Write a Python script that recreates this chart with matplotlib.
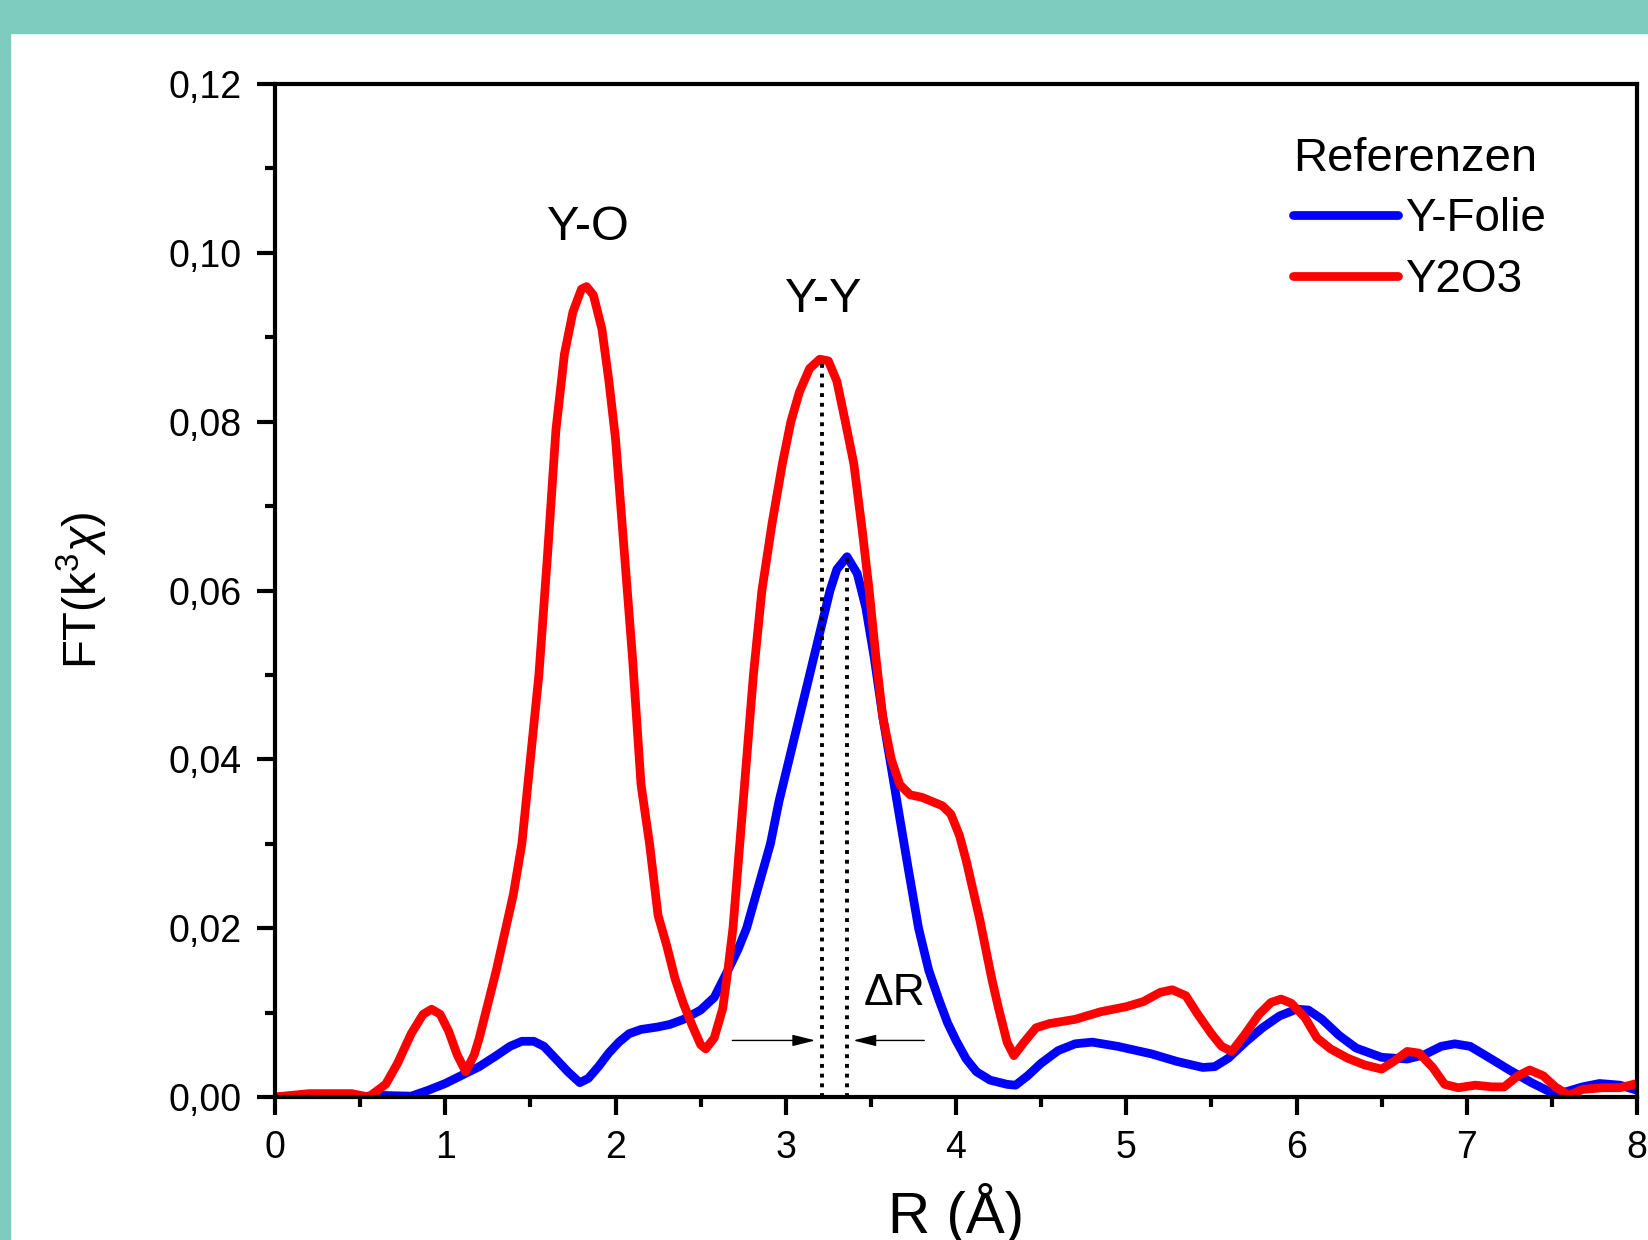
import matplotlib
matplotlib.use("Agg")
import matplotlib.pyplot as plt
from matplotlib.patches import Rectangle
from matplotlib.ticker import MultipleLocator, FuncFormatter

plt.rcParams["font.family"] = ["Liberation Sans", "DejaVu Sans"]
plt.rcParams["mathtext.fontset"] = "custom"
plt.rcParams["mathtext.rm"] = "Liberation Sans"
plt.rcParams["mathtext.it"] = "Liberation Sans:italic"

# Y-Folie (blue)
r_folie = [0.0, 0.3, 0.5, 0.6, 0.8, 0.9, 1.0, 1.1, 1.2, 1.3, 1.38, 1.45, 1.52, 1.58,
           1.65, 1.72, 1.79, 1.84, 1.9, 1.96, 2.02, 2.08, 2.15, 2.25, 2.32, 2.4, 2.5,
           2.58, 2.67, 2.72, 2.77, 2.84, 2.91, 2.96, 3.02, 3.08, 3.14, 3.2, 3.26, 3.3,
           3.36, 3.42, 3.47, 3.52, 3.57, 3.62, 3.67, 3.72, 3.78, 3.84, 3.9, 3.95, 4.0,
           4.06, 4.12, 4.2, 4.3, 4.35, 4.42, 4.5, 4.6, 4.7, 4.8, 4.95, 5.15, 5.3, 5.45,
           5.52, 5.6, 5.7, 5.8, 5.9, 6.0, 6.07, 6.15, 6.25, 6.35, 6.5, 6.65, 6.75,
           6.85, 6.93, 7.02, 7.12, 7.25, 7.38, 7.5, 7.58, 7.68, 7.78, 7.9, 8.0]
ft_folie = [0.0, 0.0, 0.0, 0.0002, 0.0001, 0.0008, 0.0016, 0.0026, 0.0036, 0.0049, 0.006,
            0.0066, 0.0066, 0.006, 0.0045, 0.003, 0.0017, 0.0022, 0.0036, 0.0052, 0.0065,
            0.0075, 0.008, 0.0083, 0.0086, 0.0092, 0.0103, 0.0118, 0.0154, 0.0175, 0.020,
            0.025, 0.030, 0.035, 0.040, 0.045, 0.050, 0.055, 0.060, 0.0625, 0.064, 0.062,
            0.058, 0.052, 0.045, 0.039, 0.033, 0.027, 0.020, 0.015, 0.0115, 0.0088, 0.0067,
            0.0045, 0.003, 0.002, 0.0015, 0.0014, 0.0025, 0.004, 0.0055, 0.0063, 0.0065,
            0.006, 0.0051, 0.0042, 0.0035, 0.0036, 0.0046, 0.0065, 0.0082, 0.0096, 0.0104,
            0.0103, 0.0092, 0.0073, 0.0058, 0.0047, 0.0045, 0.005, 0.006, 0.0063, 0.006,
            0.0048, 0.0032, 0.0017, 0.0005, 0.0006, 0.0012, 0.0016, 0.0014, 0.0008]

# Y2O3 (red)
r_y2o3 = [0.0, 0.2, 0.45, 0.55, 0.65, 0.72, 0.8, 0.87, 0.92, 0.97, 1.02, 1.07, 1.12, 1.17,
          1.2, 1.3, 1.4, 1.45, 1.5, 1.55, 1.6, 1.65, 1.7, 1.75, 1.8, 1.83, 1.87, 1.92,
          1.96, 2.0, 2.05, 2.1, 2.15, 2.2, 2.25, 2.3, 2.35, 2.4, 2.45, 2.5, 2.53, 2.58,
          2.63, 2.66, 2.69, 2.73, 2.77, 2.81, 2.86, 2.92, 2.98, 3.03, 3.08, 3.14, 3.2,
          3.25, 3.3, 3.35, 3.4, 3.45, 3.49, 3.53, 3.57, 3.62, 3.67, 3.73, 3.8, 3.86,
          3.92, 3.97, 4.02, 4.06, 4.1, 4.14, 4.17, 4.21, 4.25, 4.3, 4.34, 4.4, 4.47,
          4.55, 4.7, 4.85, 5.0, 5.1, 5.2, 5.27, 5.35, 5.42, 5.5, 5.56, 5.62, 5.7, 5.78,
          5.85, 5.91, 5.97, 6.05, 6.12, 6.2, 6.3, 6.4, 6.5, 6.57, 6.65, 6.72, 6.8,
          6.87, 6.95, 7.05, 7.15, 7.22, 7.3, 7.37, 7.45, 7.52, 7.6, 7.68, 7.8, 7.9, 8.0]
ft_y2o3 = [0.0, 0.0004, 0.0004, 0.0, 0.0015, 0.004, 0.0075, 0.0098, 0.0104, 0.0098, 0.0078,
           0.005, 0.003, 0.005, 0.007, 0.015, 0.024, 0.030, 0.040, 0.050, 0.064, 0.079,
           0.088, 0.093, 0.0957, 0.096, 0.095, 0.091, 0.085, 0.078, 0.065, 0.052, 0.037,
           0.030, 0.0215, 0.018, 0.014, 0.011, 0.0085, 0.0062, 0.0057, 0.007, 0.0105, 0.015,
           0.020, 0.030, 0.040, 0.050, 0.060, 0.068, 0.075, 0.080, 0.0835, 0.0863, 0.0874,
           0.0872, 0.0848, 0.080, 0.075, 0.067, 0.060, 0.052, 0.045, 0.040, 0.037, 0.0358,
           0.0355, 0.035, 0.0345, 0.0335, 0.031, 0.028, 0.0245, 0.021, 0.018, 0.014,
           0.0105, 0.0065, 0.0049, 0.0065, 0.0082, 0.0087, 0.0092, 0.0101, 0.0107, 0.0113,
           0.0124, 0.0127, 0.012, 0.0098, 0.0075, 0.006, 0.0054, 0.0075, 0.0098, 0.0112,
           0.0116, 0.0111, 0.0094, 0.007, 0.0057, 0.0046, 0.0038, 0.0033, 0.0042, 0.0054,
           0.0052, 0.0035, 0.0015, 0.0011, 0.0014, 0.0012, 0.0012, 0.0025, 0.0032, 0.0025,
           0.0012, 0.0002, 0.0009, 0.0011, 0.0011, 0.0016]

peak_r = [3.21, 3.36]
peak_ft = [0.0874, 0.064]

teal = "#7eccc0"
fig = plt.figure(figsize=(16.48, 12.4), dpi=100, facecolor="white")
fig.patches.append(Rectangle((0, 1 - 33 / 1240), 1, 33 / 1240, transform=fig.transFigure,
                             color=teal, zorder=0))
fig.patches.append(Rectangle((0, 0), 10 / 1648, 1, transform=fig.transFigure,
                             color=teal, zorder=0))

ax = fig.add_axes([275 / 1648, 143 / 1240, 1362 / 1648, 1013 / 1240])
ax.plot(r_folie, ft_folie, color="#0000ff", lw=6.3, label="Y-Folie",
        solid_joinstyle="round", solid_capstyle="round")
ax.plot(r_y2o3, ft_y2o3, color="#ff0000", lw=6.3, label="Y2O3",
        solid_joinstyle="round", solid_capstyle="round")

for r, f in zip(peak_r, peak_ft):
    ax.plot([r, r], [0, f], color="black", lw=2.8, linestyle=(0, (1, 1.5)), zorder=3)

arrow_kw = dict(arrowstyle="-|>,head_length=1.4,head_width=0.35", color="black", lw=1.0)
ax.annotate("", xy=(3.19, 0.0067), xytext=(2.67, 0.0067), arrowprops=arrow_kw)
ax.annotate("", xy=(3.38, 0.0067), xytext=(3.83, 0.0067), arrowprops=arrow_kw)

ax.text(1.84, 0.103, "Y-O", fontsize=35, ha="center", va="center")
ax.text(3.22, 0.0945, "Y-Y", fontsize=35, ha="center", va="center")
ax.text(3.64, 0.0123, "ΔR", fontsize=32, ha="center", va="center")

ax.set_xlim(0, 8)
ax.set_ylim(0, 0.12)
ax.xaxis.set_major_locator(MultipleLocator(1))
ax.xaxis.set_minor_locator(MultipleLocator(0.5))
ax.yaxis.set_major_locator(MultipleLocator(0.02))
ax.yaxis.set_minor_locator(MultipleLocator(0.01))
ax.yaxis.set_major_formatter(FuncFormatter(lambda v, p: f"{v:.2f}".replace(".", ",")))
ax.tick_params(which="both", direction="out", width=3, top=False, right=False,
               labelsize=27)
ax.tick_params(which="major", length=13, pad=11)
ax.tick_params(which="minor", length=7)
for s in ax.spines.values():
    s.set_linewidth(3)

ax.set_xlabel("R (Å)", fontsize=42, labelpad=12)
ax.set_ylabel("FT(k$^3$$\\chi$)", fontsize=34, labelpad=42)

leg = ax.legend(title="Referenzen", frameon=False, loc="upper left",
                bbox_to_anchor=(0.734, 0.966), borderaxespad=0, fontsize=33,
                title_fontsize=34, handlelength=2.3, handletextpad=0.15,
                labelspacing=0.36)
leg._legend_box.align = "left"

fig.savefig("out.png", dpi=100, facecolor="white")
